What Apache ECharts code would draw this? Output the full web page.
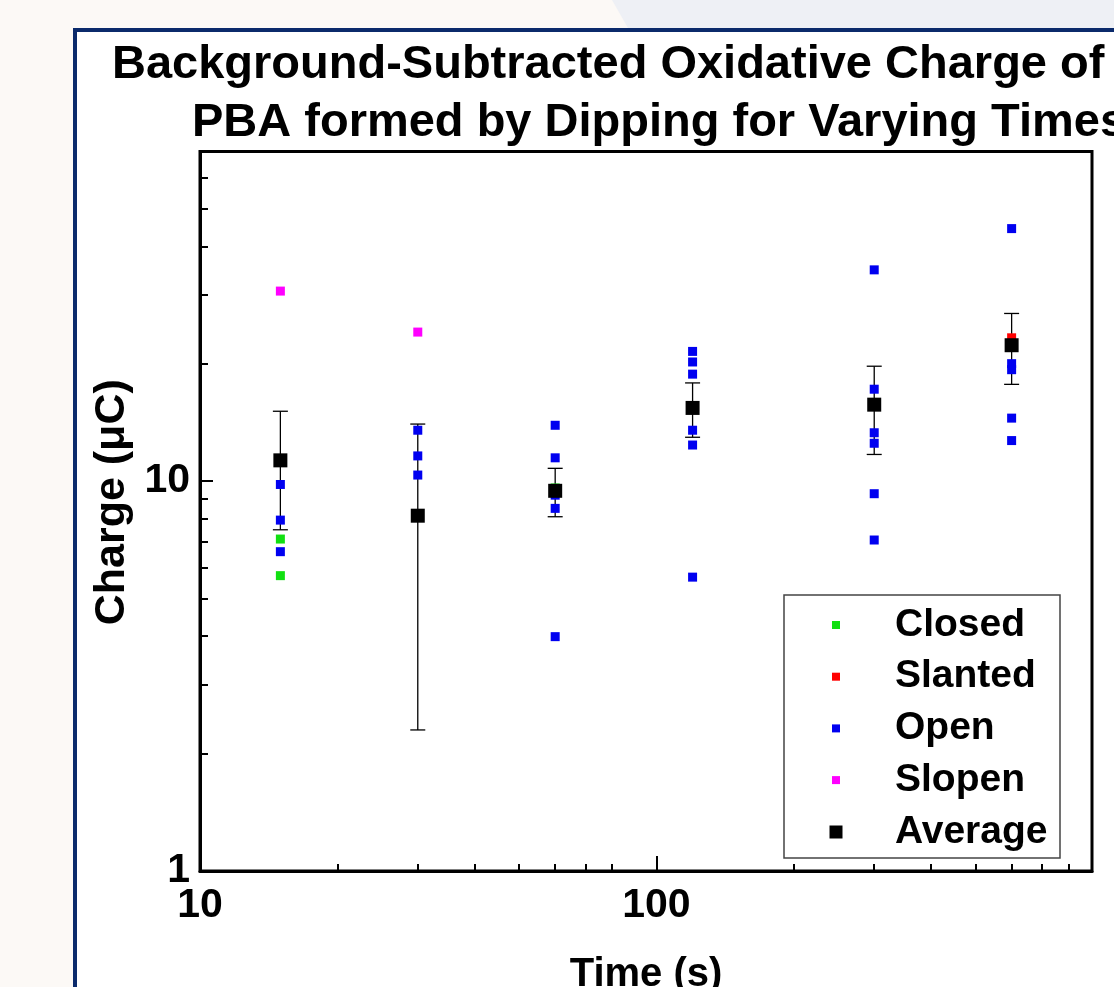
<!DOCTYPE html>
<html>
<head>
<meta charset="utf-8">
<script src="https://cdn.jsdelivr.net/npm/echarts@6/dist/echarts.min.js"></script>
<style>
html,body{margin:0;padding:0;background:#fcf9f6;}
#chart{width:1114px;height:987px;}
</style>
</head>
<body>
<div id="chart"></div>
<script>
// ---- data ----
var times = [15, 30, 60, 120, 300, 600];
var avgVals = [11.3, 8.15, 9.44, 15.4, 15.7, 22.3];
var errVals = [3.8, 5.85, 1.34, 2.45, 4.0, 4.6];
var closedPts = [[15, 7.1], [15, 5.72], [60, 9.6]];
var slantedPts = [[600, 23.3]];
var openPts = [
  [15, 9.8], [15, 7.94], [15, 6.59],
  [30, 13.5], [30, 11.6], [30, 10.36],
  [60, 13.9], [60, 11.47], [60, 9.2], [60, 8.51], [60, 3.99],
  [120, 21.5], [120, 20.2], [120, 18.8], [120, 13.5], [120, 12.37], [120, 5.67],
  [300, 34.8], [300, 17.2], [300, 13.3], [300, 12.5], [300, 9.28], [300, 7.06],
  [600, 44.4], [600, 20.0], [600, 19.3], [600, 14.5], [600, 12.7]
];
var slopenPts = [[15, 30.7], [30, 24.1]];
var xMajorTicks = [10, 100];
var xMinorTicks = [20, 30, 40, 50, 60, 70, 80, 200, 300, 400, 500, 600, 700, 800];
var yMajorTicks = [1, 10];
var yMinorTicks = [2, 3, 4, 5, 6, 7, 8, 9, 20, 30, 40, 50, 60];
var titleLine1 = 'Background-Subtracted Oxidative Charge of';
var titleLine2 = 'PBA formed by Dipping for Varying Times';

var avgPts = times.map(function (t, i) { return [t, avgVals[i]]; });
var errData = times.map(function (t, i) { return [t, avgVals[i], errVals[i]]; });

var FONT = '"Liberation Sans", Arial, sans-serif';
var chart = echarts.init(document.getElementById('chart'), null, {renderer: 'canvas'});

var option = {
  backgroundColor: '#fcf9f6',
  animation: false,
  graphic: [
    {type: 'polygon', z: -100, shape: {points: [[612, 0], [1114, 0], [1114, 28], [628, 28]]}, style: {fill: '#eef0f5'}},
    {type: 'rect', z: -99, shape: {x: 75, y: 30, width: 1200, height: 1100}, style: {fill: '#ffffff', stroke: '#0b2a6b', lineWidth: 4}},
    {type: 'rect', z: 1, shape: {x: 784, y: 595, width: 276, height: 263}, style: {fill: '#ffffff', stroke: '#444', lineWidth: 1.5}}
  ],
  title: [
    {text: titleLine1, left: 112, top: 42, padding: 0,
     textStyle: {fontFamily: FONT, fontWeight: 'bold', fontSize: 47, lineHeight: 47, color: '#000'}},
    {text: titleLine2, left: 192, top: 100, padding: 0,
     textStyle: {fontFamily: FONT, fontWeight: 'bold', fontSize: 47, lineHeight: 47, color: '#000'}}
  ],
  grid: {left: 200, top: 151.5, width: 892, height: 719.5, outerBoundsMode: 'none', containLabel: false,
         show: true, borderColor: '#000', borderWidth: 3, backgroundColor: 'transparent'},
  xAxis: [
    {type: 'log', logBase: 10, min: 10, max: 900,
     name: 'Time (s)', nameLocation: 'middle', nameGap: 84,
     nameTextStyle: {fontFamily: FONT, fontWeight: 'bold', fontSize: 40, lineHeight: 40, color: '#000'},
     axisLine: {show: true, lineStyle: {color: '#000', width: 3}},
     axisTick: {show: true, inside: true, length: 15, customValues: xMajorTicks, lineStyle: {color: '#000', width: 2}},
     axisLabel: {show: true, customValues: xMajorTicks, margin: 14, fontFamily: FONT, fontWeight: 'bold', fontSize: 41, lineHeight: 41, color: '#000'},
     splitLine: {show: false}},
    {type: 'log', logBase: 10, min: 10, max: 900, position: 'bottom',
     axisLine: {show: false},
     axisTick: {show: true, inside: true, length: 7, customValues: xMinorTicks, lineStyle: {color: '#000', width: 2}},
     axisLabel: {show: false},
     splitLine: {show: false}}
  ],
  yAxis: [
    {type: 'log', logBase: 10, min: 1, max: 70,
     name: 'Charge (\u03bcC)', nameLocation: 'middle', nameGap: 66, nameRotate: 90,
     nameTextStyle: {fontFamily: FONT, fontWeight: 'bold', fontSize: 43, lineHeight: 43, color: '#000', padding: [0, 0, 0, 18]},
     axisLine: {show: true, lineStyle: {color: '#000', width: 3}},
     axisTick: {show: true, inside: true, length: 13, customValues: yMajorTicks, lineStyle: {color: '#000', width: 2}},
     axisLabel: {show: true, customValues: yMajorTicks, margin: 10, fontFamily: FONT, fontWeight: 'bold', fontSize: 41, lineHeight: 41, color: '#000'},
     splitLine: {show: false}},
    {type: 'log', logBase: 10, min: 1, max: 70, position: 'left',
     axisLine: {show: false},
     axisTick: {show: true, inside: true, length: 8, customValues: yMinorTicks, lineStyle: {color: '#000', width: 2}},
     axisLabel: {show: false},
     splitLine: {show: false}}
  ],
  legend: [
    {data: ['Closed', 'Slanted', 'Open', 'Slopen'], orient: 'vertical', left: 832, top: 603, z: 10,
     itemWidth: 8, itemHeight: 8, itemGap: 7.7, padding: 0, selectedMode: false, icon: 'rect',
     textStyle: {fontFamily: FONT, fontWeight: 'bold', fontSize: 39, lineHeight: 44, color: '#000', padding: [0, 0, 0, 50]}},
    {data: ['Average'], orient: 'vertical', left: 829.5, top: 810, z: 10,
     itemWidth: 13, itemHeight: 13, padding: 0, selectedMode: false, icon: 'rect',
     textStyle: {fontFamily: FONT, fontWeight: 'bold', fontSize: 39, lineHeight: 44, color: '#000', padding: [0, 0, 0, 47.5]}}
  ],
  series: [
    {type: 'custom', name: 'err', xAxisIndex: 0, yAxisIndex: 0, data: errData, z: 3,
     renderItem: function (params, api) {
       var x = api.value(0), m = api.value(1), e = api.value(2);
       var top = api.coord([x, m + e]);
       var bot = api.coord([x, m - e]);
       var hw = 7.5;
       return {type: 'group', children: [
         {type: 'line', shape: {x1: top[0], y1: top[1], x2: bot[0], y2: bot[1]}, style: {stroke: '#000', lineWidth: 1.3}},
         {type: 'line', shape: {x1: top[0] - hw, y1: top[1], x2: top[0] + hw, y2: top[1]}, style: {stroke: '#000', lineWidth: 1.3}},
         {type: 'line', shape: {x1: bot[0] - hw, y1: bot[1], x2: bot[0] + hw, y2: bot[1]}, style: {stroke: '#000', lineWidth: 1.3}}
       ]};
     }},
    {type: 'scatter', name: 'Closed', data: closedPts, symbol: 'rect', symbolSize: 9, itemStyle: {color: '#11e011', opacity: 1}, z: 4},
    {type: 'scatter', name: 'Slanted', data: slantedPts, symbol: 'rect', symbolSize: 9, itemStyle: {color: '#ff0000', opacity: 1}, z: 4},
    {type: 'scatter', name: 'Open', data: openPts, symbol: 'rect', symbolSize: 9, itemStyle: {color: '#0000f0', opacity: 1}, z: 4},
    {type: 'scatter', name: 'Slopen', data: slopenPts, symbol: 'rect', symbolSize: 9, itemStyle: {color: '#ff00ff', opacity: 1}, z: 4},
    {type: 'scatter', name: 'Average', data: avgPts, symbol: 'rect', symbolSize: 14, itemStyle: {color: '#000', opacity: 1}, z: 5}
  ]
};
chart.setOption(option);
</script>
</body>
</html>
